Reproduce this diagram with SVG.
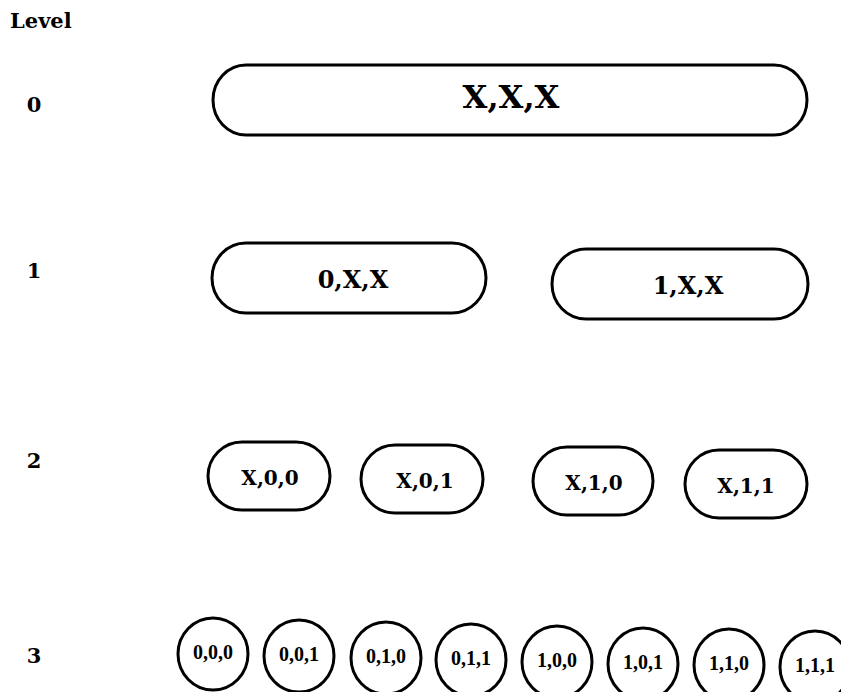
<svg xmlns="http://www.w3.org/2000/svg" width="841" height="692" viewBox="0 0 841 692">
  <style>
    .bg { fill: #ffffff; }
    .node { fill: #ffffff; stroke: #000000; stroke-width: 3; }
    .t { font-family: "DejaVu Serif", "Liberation Serif", serif; font-weight: bold; fill: #000000; text-anchor: middle; }
    .lvl { font-family: "DejaVu Serif", "Liberation Serif", serif; font-weight: bold; fill: #000000; font-size: 21px; }
    .t0 { font-size: 32px; }
    .t1 { font-size: 24px; }
    .t2 { font-size: 20px; }
    .t3 { font-family: "Liberation Serif", "DejaVu Serif", serif; font-size: 20px; }
  </style>
  <rect class="bg" x="0" y="0" width="841" height="692"/>

  <g id="level-labels">
    <text class="lvl" x="10" y="28">Level</text>
    <text class="lvl" x="34" y="112" text-anchor="middle">0</text>
    <text class="lvl" x="34" y="278" text-anchor="middle">1</text>
    <text class="lvl" x="34" y="468" text-anchor="middle">2</text>
    <text class="lvl" x="34" y="663" text-anchor="middle">3</text>
  </g>

  <g id="connectors"></g>

  <g id="node-XXX">
    <rect class="node" x="213" y="65" width="594" height="70" rx="33" ry="35"/>
    <text class="t t0" x="511" y="108">X,X,X</text>
  </g>

  <g id="node-0XX">
    <rect class="node" x="212" y="243" width="274" height="70" rx="34" ry="35"/>
    <text class="t t1" x="353" y="288">0,X,X</text>
  </g>
  <g id="node-1XX">
    <rect class="node" x="552" y="249" width="256" height="70" rx="34" ry="35"/>
    <text class="t t1" x="688" y="294">1,X,X</text>
  </g>

  <g id="node-X00">
    <rect class="node" x="208" y="442" width="122" height="68" rx="34" ry="34"/>
    <text class="t t2" x="270" y="485">X,0,0</text>
  </g>
  <g id="node-X01">
    <rect class="node" x="361" y="445" width="122" height="68" rx="34" ry="34"/>
    <text class="t t2" x="425" y="488">X,0,1</text>
  </g>
  <g id="node-X10">
    <rect class="node" x="533" y="447" width="120" height="68" rx="34" ry="34"/>
    <text class="t t2" x="594" y="490">X,1,0</text>
  </g>
  <g id="node-X11">
    <rect class="node" x="685" y="450" width="122" height="68" rx="34" ry="34"/>
    <text class="t t2" x="746" y="493">X,1,1</text>
  </g>

  <g id="node-000">
    <ellipse class="node" cx="213" cy="654" rx="35" ry="36"/>
    <text class="t t3" x="213" y="659">0,0,0</text>
  </g>
  <g id="node-001">
    <ellipse class="node" cx="299" cy="656" rx="35" ry="36"/>
    <text class="t t3" x="299" y="661">0,0,1</text>
  </g>
  <g id="node-010">
    <ellipse class="node" cx="386" cy="658" rx="35" ry="36"/>
    <text class="t t3" x="386" y="663">0,1,0</text>
  </g>
  <g id="node-011">
    <ellipse class="node" cx="471" cy="660" rx="35" ry="36"/>
    <text class="t t3" x="471" y="665">0,1,1</text>
  </g>
  <g id="node-100">
    <ellipse class="node" cx="557" cy="662" rx="35" ry="36"/>
    <text class="t t3" x="557" y="667">1,0,0</text>
  </g>
  <g id="node-101">
    <ellipse class="node" cx="643" cy="664" rx="35" ry="36"/>
    <text class="t t3" x="643" y="669">1,0,1</text>
  </g>
  <g id="node-110">
    <ellipse class="node" cx="729" cy="665" rx="35" ry="36"/>
    <text class="t t3" x="729" y="670">1,1,0</text>
  </g>
  <g id="node-111">
    <ellipse class="node" cx="815" cy="667" rx="35" ry="36"/>
    <text class="t t3" x="815" y="672">1,1,1</text>
  </g>
</svg>
